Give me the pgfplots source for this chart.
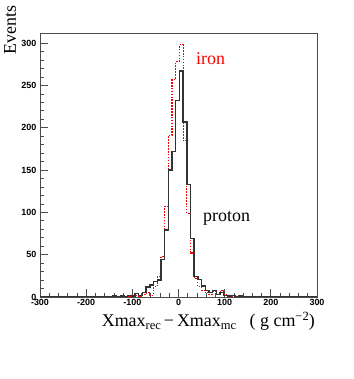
\documentclass[border=0pt]{standalone}
\usepackage{fontspec}
\setmainfont{Liberation Serif}
\setsansfont{Liberation Sans}
\usepackage{pgfplots}
\pgfplotsset{compat=1.18}
\usepackage{pgfplotstable}

\pgfplotstableread{
x y
-300 0
-142 1
-134 0
-126 1
-118 0
-110 2
-102 1
-94 4
-86 2
-78 5
-70 12
-62 14
-54 18
-46 20
-38 44
-30 79
-22 150
-14 172
-6 232
2 267
10 207
18 133
26 69
34 24
42 21
50 13
58 8
66 5
74 8
82 3
90 5
98 2
106 1
114 2
122 0
130 1
138 0
300 0
}\proton

\pgfplotstableread{
x y
-300 0
-110 1
-102 0
-94 2
-86 1
-78 3
-70 5
-62 2
-54 12
-46 24
-38 48
-30 107
-22 191
-14 257
-6 278
2 298
10 185
18 99
26 52
34 22
42 12
50 8
58 5
66 3
74 6
82 4
90 8
98 3
106 1
114 0
122 1
130 0
300 0
}\iron

\begin{document}
\begin{tikzpicture}
\useasboundingbox (0,0) rectangle (354bp,379bp);
\begin{axis}[
  at={(40bp,82bp)}, anchor=south west,
  scale only axis, width=277bp, height=264bp,
  xmin=-300, xmax=300, ymin=0, ymax=312,
  xtick={-300,-200,...,300},
  xticklabels={-300,-200,-100,0,100,200,300},
  ytick={0,50,...,300},
  yticklabels={0,50,100,150,200,250,300},
  minor x tick num=4, minor y tick num=4,
  tick align=inside, xtick pos=left, ytick pos=left,
  major tick length=8bp, minor tick length=4bp,
  ticklabel style={font=\sffamily\bfseries\fontsize{9}{10}\selectfont, inner sep=0pt},
  xticklabel style={yshift=-2.5bp},
  yticklabel style={xshift=-3.5bp},
  axis line style={black!70, line width=0.9bp},
  tick style={black!70, line width=0.7bp},
]
\addplot[const plot, red, line width=1.1bp, dash pattern=on 1.6bp off 1.3bp] table[x=x,y=y]{\iron};
\addplot[const plot, black!80, line width=1.4bp] table[x=x,y=y]{\proton};
\end{axis}
\node[rotate=90, anchor=east, inner sep=0pt, font=\fontsize{18}{20}\selectfont] at (10bp,374bp) {Events};
\node[anchor=base east, inner sep=0pt, font=\fontsize{18}{20}\selectfont] at (315bp,52bp)
  {Xmax\raisebox{-0.35ex}{\fontsize{12.6}{14}\selectfont rec}\,−\,Xmax\raisebox{-0.35ex}{\fontsize{12.6}{14}\selectfont mc}\ \ \ ( g cm\raisebox{0.75ex}{\fontsize{12.6}{14}\selectfont −2})};
\node[anchor=base west, inner sep=0pt, text=red, font=\fontsize{18}{20}\selectfont] at (196bp,314bp) {iron};
\node[anchor=base west, inner sep=0pt, font=\fontsize{18}{20}\selectfont] at (203bp,157bp) {proton};
\end{tikzpicture}
\end{document}
